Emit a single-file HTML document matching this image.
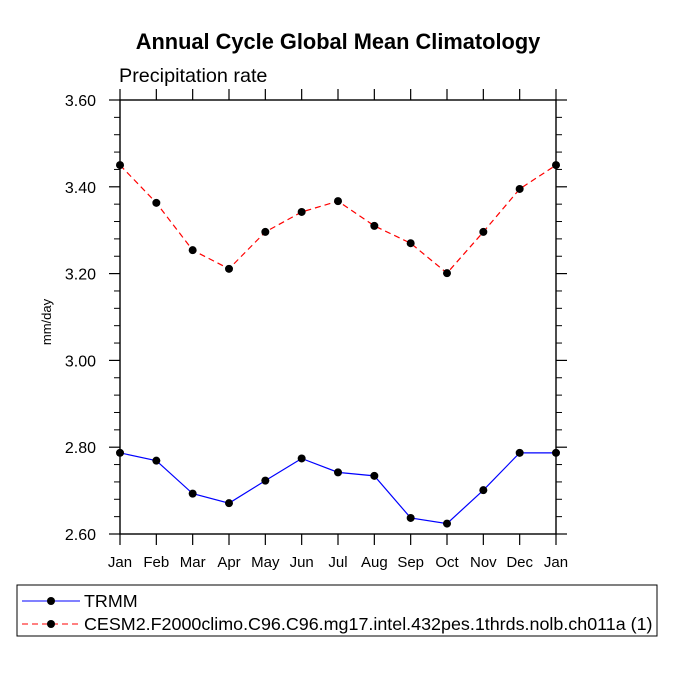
<!DOCTYPE html>
<html><head><meta charset="utf-8"><style>body{margin:0;background:#fff}svg{display:block;font-family:"Liberation Sans",sans-serif}</style></head>
<body>
<svg id="c" width="675" height="675" viewBox="0 0 675 675">
<text x="338" y="49" text-anchor="middle" font-size="21.8" font-weight="bold">Annual Cycle Global Mean Climatology</text>
<text x="119" y="82" font-size="19.8">Precipitation rate</text>
<text transform="translate(51,322) rotate(-90)" text-anchor="middle" font-size="13">mm/day</text>
<rect x="120" y="100" width="436" height="434" fill="none" stroke="#000" stroke-width="1.4"/>
<g id="ax"></g><g id="series"></g>
<rect x="17" y="585" width="640" height="51" fill="none" stroke="#000"/>
<g><line x1="22" y1="601" x2="80" y2="601" stroke="#00f"/><circle cx="51" cy="601" r="4"/><text x="84" y="607" font-size="17.9">TRMM</text></g>
<g><line x1="22" y1="624" x2="80" y2="624" stroke="#f00" stroke-dasharray="6,4"/><circle cx="51" cy="624" r="4"/><text x="84" y="630" font-size="17.9">CESM2.F2000climo.C96.C96.mg17.intel.432pes.1thrds.nolb.ch011a (1)</text></g>
</svg>
<script>
const months=["Jan","Feb","Mar","Apr","May","Jun","Jul","Aug","Sep","Oct","Nov","Dec","Jan"];
const trmm=[2.787,2.769,2.693,2.671,2.723,2.774,2.742,2.734,2.637,2.624,2.701,2.787,2.787];
const cesm=[3.45,3.363,3.254,3.211,3.296,3.342,3.367,3.310,3.270,3.201,3.296,3.395,3.45];
const yTicks=["2.60","2.80","3.00","3.20","3.40","3.60"];
const NS="http://www.w3.org/2000/svg";
const X0=120,X1=556,Y0=534,Y1=100,YMIN=2.6,YMAX=3.6;
const xs=i=>X0+(X1-X0)*i/(months.length-1);
const ys=v=>Y0-(v-YMIN)/(YMAX-YMIN)*(Y0-Y1);
function mk(t,a,p){const e=document.createElementNS(NS,t);for(const k in a)e.setAttribute(k,a[k]);p.appendChild(e);return e;}
const ax=document.getElementById('ax');
months.forEach((m,i)=>{const x=xs(i);
mk('line',{x1:x,y1:Y0,x2:x,y2:Y0+11,stroke:'#000','stroke-width':1.2},ax);
mk('line',{x1:x,y1:Y1,x2:x,y2:Y1-11,stroke:'#000','stroke-width':1.2},ax);
const t=mk('text',{x:x,y:Y0+33,'text-anchor':'middle','font-size':15},ax);t.textContent=m;

});
yTicks.forEach((s,i)=>{const v=parseFloat(s),y=ys(v);
mk('line',{x1:X0,y1:y,x2:X0-11,y2:y,stroke:'#000','stroke-width':1.2},ax);
mk('line',{x1:X1,y1:y,x2:X1+11,y2:y,stroke:'#000','stroke-width':1.2},ax);
const t=mk('text',{x:X0-24,y:y+6,'text-anchor':'end','font-size':16},ax);t.textContent=s;


if(i<yTicks.length-1)for(let k=1;k<5;k++){const yy=ys(v+0.04*k);
mk('line',{x1:X0,y1:yy,x2:X0-6,y2:yy,stroke:'#000'},ax);
mk('line',{x1:X1,y1:yy,x2:X1+6,y2:yy,stroke:'#000'},ax);}});
const sg=document.getElementById('series');
function draw(vals,col,dash,name){
const p=mk('polyline',{points:vals.map((v,i)=>xs(i)+','+ys(v)).join(' '),fill:'none',stroke:col,'stroke-width':1.2},sg);
if(dash)p.setAttribute('stroke-dasharray','6,4');


vals.forEach((v,i)=>{const c=mk('circle',{cx:xs(i),cy:ys(v),r:4},sg);

});}
draw(cesm,'#f00',true,'cesm');
draw(trmm,'#00f',false,'trmm');
</script>
</body></html>
